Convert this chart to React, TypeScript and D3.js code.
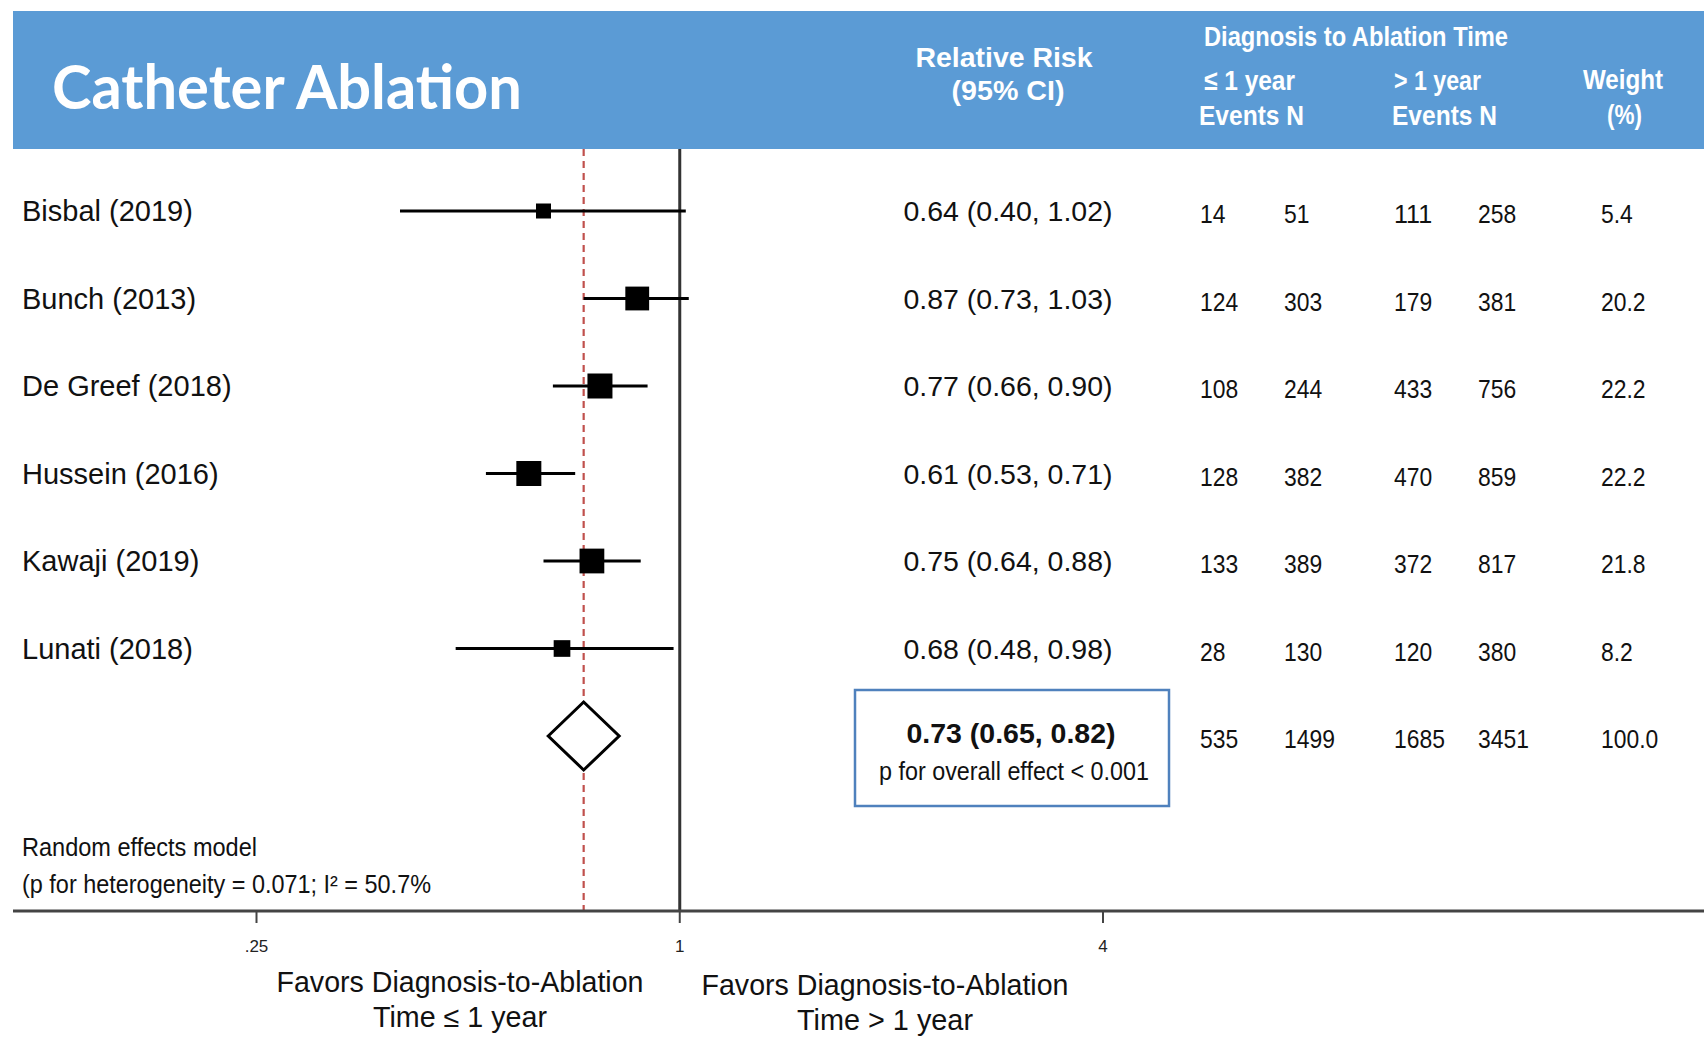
import React from "react";
import * as d3 from "d3";

// study rows
const studies = ["Bisbal (2019)", "Bunch (2013)", "De Greef (2018)", "Hussein (2016)", "Kawaji (2019)", "Lunati (2018)"];
const rr = [0.64, 0.87, 0.77, 0.61, 0.75, 0.68];
const ciLow = [0.4, 0.73, 0.66, 0.53, 0.64, 0.48];
const ciHigh = [1.02, 1.03, 0.9, 0.71, 0.88, 0.98];
const eventsEarly = [14, 124, 108, 128, 133, 28];
const nEarly = [51, 303, 244, 382, 389, 130];
const eventsLate = [111, 179, 433, 470, 372, 120];
const nLate = [258, 381, 756, 859, 817, 380];
const weights = [5.4, 20.2, 22.2, 22.2, 21.8, 8.2];

// pooled estimate
const pooled = [0.73, 0.65, 0.82];
const totals = [535, 1499, 1685, 3451, 100.0];

const axisTicks = [0.25, 1, 4];
const tickLabels = [".25", "1", "4"];

const W = 1704;
const H = 1038;
const FONT = "'Liberation Sans', Arial, sans-serif";

// narrow digits, like the condensed face of the original
let Num = ({ x, y, s }: { x: number; y: number; s: string }) => {
  let fs = 26;
  let len = d3.sum(s.split(""), (c) => (c === "." ? 0.278 : 0.556)) * fs * 0.88;
  return (
    <text x={x} y={y} fontSize={fs} fill="#111" textLength={len} lengthAdjust="spacingAndGlyphs">
      {s}
    </text>
  );
};

let App = () => {
  let x = d3.scaleLog().base(2).domain([0.25, 4]).range([256.5, 1103]);
  let y = d3.scalePoint<number>().domain(d3.range(studies.length + 1)).range([211, 736]);
  let boxSize = d3.scaleLinear().domain([5.4, 22.2]).range([15, 25]);
  let f2 = d3.format(".2f");
  let f1 = d3.format(".1f");
  let ciText = (m: number, lo: number, hi: number) => `${f2(m)} (${f2(lo)}, ${f2(hi)})`;

  const axisY = 911;
  const bandTop = 11;
  const bandBottom = 149;
  const numCols = [1200, 1284, 1394, 1478, 1601];
  const rrX = 1008;

  let py = y(studies.length) as number;
  let diamond = [
    [x(pooled[1]), py],
    [x(pooled[0]), py - 34],
    [x(pooled[2]), py],
    [x(pooled[0]), py + 34],
  ];

  return (
    <svg width={W} height={H} style={{ position: "absolute", left: 0, top: 0, display: "block", background: "white" }} fontFamily={FONT}>
      {/* header band */}
      <rect x={13} y={bandTop} width={W - 13} height={bandBottom - bandTop} fill="#5B9BD5" />
      <text x={52} y={109} fill="white" fontFamily="Lato, 'Open Sans', sans-serif" fontWeight="bold" fontSize={62} textLength={470} lengthAdjust="spacingAndGlyphs">
        Catheter Ablation
      </text>
      <g fill="white" fontWeight="bold" fontSize={28}>
        <text x={1004} y={67} textAnchor="middle" textLength={177} lengthAdjust="spacingAndGlyphs">Relative Risk</text>
        <text x={1008} y={100} textAnchor="middle" textLength={113} lengthAdjust="spacingAndGlyphs">(95% CI)</text>
        <text x={1356} y={46} textAnchor="middle" fontSize={27} textLength={304} lengthAdjust="spacingAndGlyphs">Diagnosis to Ablation Time</text>
        <text x={1204} y={90} textLength={91} lengthAdjust="spacingAndGlyphs">≤ 1 year</text>
        <text x={1199} y={125} textLength={105} lengthAdjust="spacingAndGlyphs">Events  N</text>
        <text x={1394} y={90} textLength={87} lengthAdjust="spacingAndGlyphs">&gt; 1 year</text>
        <text x={1392} y={125} textLength={105} lengthAdjust="spacingAndGlyphs">Events  N</text>
        <text x={1583} y={89} textLength={80} lengthAdjust="spacingAndGlyphs">Weight</text>
        <text x={1607} y={124} textLength={35} lengthAdjust="spacingAndGlyphs">(%)</text>
      </g>

      {/* reference lines */}
      <line x1={x(1)} x2={x(1)} y1={bandBottom} y2={axisY} stroke="#333" strokeWidth={3} />
      <line x1={x(pooled[0])} x2={x(pooled[0])} y1={bandBottom} y2={axisY} stroke="#C0504D" strokeWidth={2.2} strokeDasharray="7,5" />

      {/* study rows */}
      {studies.map((s, i) => {
        let cy = y(i) as number;
        let sz = boxSize(weights[i]);
        return (
          <g key={s}>
            <text x={22} y={cy + 10} fontSize={29} fill="#111">{s}</text>
            <line x1={x(ciLow[i])} x2={x(ciHigh[i])} y1={cy} y2={cy} stroke="black" strokeWidth={3} />
            <rect x={x(rr[i]) - sz / 2} y={cy - sz / 2} width={sz} height={sz} fill="black" />
            <text x={rrX} y={cy + 10} fontSize={28.5} textAnchor="middle" fill="#111">{ciText(rr[i], ciLow[i], ciHigh[i])}</text>
            {[eventsEarly[i], nEarly[i], eventsLate[i], nLate[i]].map((v, j) => (
              <Num key={j} x={numCols[j]} y={cy + 12} s={String(v)} />
            ))}
            <Num x={numCols[4]} y={cy + 12} s={f1(weights[i])} />
          </g>
        );
      })}

      {/* pooled */}
      <path d={(d3.line()(diamond as [number, number][]) as string) + "Z"} fill="white" stroke="black" strokeWidth={3} />
      <rect x={855} y={690} width={314} height={116} fill="none" stroke="#4F81BD" strokeWidth={2.5} />
      <text x={1011} y={743} fontSize={28} fontWeight="bold" textAnchor="middle" fill="#111" textLength={209} lengthAdjust="spacingAndGlyphs">{ciText(pooled[0], pooled[1], pooled[2])}</text>
      <text x={1014} y={780} fontSize={25} textAnchor="middle" fill="#111" textLength={270} lengthAdjust="spacingAndGlyphs">p for overall effect &lt; 0.001</text>
      {totals.map((v, j) => (
        <Num key={j} x={numCols[j]} y={py + 12} s={j === 4 ? f1(v) : String(v)} />
      ))}

      {/* model note */}
      <text x={22} y={856} fontSize={25} fill="#111" textLength={235} lengthAdjust="spacingAndGlyphs">Random effects model</text>
      <text x={22} y={893} fontSize={25} fill="#111" textLength={409} lengthAdjust="spacingAndGlyphs">(p for heterogeneity = 0.071; I² = 50.7%</text>

      {/* axis */}
      <line x1={13} x2={W} y1={axisY} y2={axisY} stroke="#444" strokeWidth={3} />
      {axisTicks.map((t, i) => (
        <g key={t}>
          <line x1={x(t)} x2={x(t)} y1={axisY} y2={axisY + 12} stroke="#444" strokeWidth={2} />
          <text x={x(t)} y={952} fontSize={17} textAnchor="middle" fill="#222">{tickLabels[i]}</text>
        </g>
      ))}

      {/* favours labels */}
      <g fontSize={29} fill="#111" textAnchor="middle">
        <text x={460} y={992} textLength={367} lengthAdjust="spacingAndGlyphs">Favors Diagnosis-to-Ablation</text>
        <text x={460} y={1027} textLength={174} lengthAdjust="spacingAndGlyphs">Time ≤ 1 year</text>
        <text x={885} y={995} textLength={367} lengthAdjust="spacingAndGlyphs">Favors Diagnosis-to-Ablation</text>
        <text x={885} y={1030} textLength={176} lengthAdjust="spacingAndGlyphs">Time &gt; 1 year</text>
      </g>
    </svg>
  );
};

export default App;
